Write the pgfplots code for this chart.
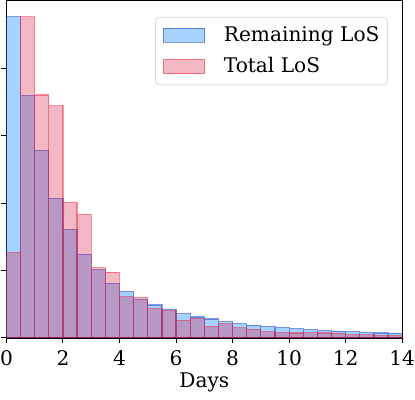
\documentclass[border=0pt]{standalone}
\usepackage{fontspec}
\setmainfont{DejaVu Serif}
\usepackage{pgfplots}
\pgfplotsset{compat=1.18}
\definecolor{blfill}{RGB}{30,144,255}
\definecolor{bledge}{RGB}{20,50,210}
\definecolor{rdfill}{RGB}{220,20,60}
\definecolor{rdedge}{RGB}{245,20,45}
\begin{document}
\begin{tikzpicture}
\begin{axis}[
    scale only axis,
    width=196.5pt,
    height=167.5pt,
    xmin=0, xmax=14,
    ymin=0, ymax=5,
    xtick={0,2,...,14},
    ytick={0,1,2,3,4},
    yticklabels={},
    y tick label style={overlay},
    x tick label style={inner xsep=0pt},
    tick align=outside,
    tick pos=left,
    major tick length=2.5pt,
    axis line style={line width=0.6pt},
    tick style={line width=0.5pt, black},
    /pgf/number format/assume math mode=true,
    tick label style={font=\fontsize{10}{12}\selectfont},
    xlabel={Days},
    xlabel style={font=\fontsize{10}{12}\selectfont, yshift=3pt},
    legend cell align=left,
    legend style={at={(0.964,0.952)}, anchor=north east, draw=gray!30,
        rounded corners=2pt, font=\fontsize{10}{12}\selectfont,
        row sep=2.5pt, inner xsep=2pt, inner ysep=2.5pt},
    legend image code/.code={
        \path[draw=none, fill=none] (-2pt,0) -- (28pt,0);
        \draw[#1, sharp corners] (0pt,-3.5pt) rectangle (20.5pt,3.5pt);},
]
\addplot[ybar interval, fill=blfill, fill opacity=0.4, draw=bledge, draw opacity=0.5, line width=0.6pt]
coordinates {(0,4.76) (0.5,3.59) (1,2.78) (1.5,2.07) (2,1.61) (2.5,1.24) (3,1.01) (3.5,0.81)
 (4,0.69) (4.5,0.57) (5,0.49) (5.5,0.42) (6,0.36) (6.5,0.31) (7,0.28) (7.5,0.24)
 (8,0.21) (8.5,0.19) (9,0.17) (9.5,0.155) (10,0.14) (10.5,0.125) (11,0.11) (11.5,0.10)
 (12,0.09) (12.5,0.08) (13,0.075) (13.5,0.07) (14,0.07)};
\addlegendentry{Remaining LoS}
\addplot[ybar interval, fill=rdfill, fill opacity=0.3, draw=rdedge, draw opacity=0.45, line width=0.6pt]
coordinates {(0,1.27) (0.5,4.76) (1,3.60) (1.5,3.44) (2,2.01) (2.5,1.83) (3,1.04) (3.5,0.975)
 (4,0.61) (4.5,0.60) (5,0.44) (5.5,0.41) (6,0.26) (6.5,0.29) (7,0.17) (7.5,0.21)
 (8,0.15) (8.5,0.13) (9,0.09) (9.5,0.08) (10,0.075) (10.5,0.08) (11,0.075) (11.5,0.07)
 (12,0.05) (12.5,0.05) (13,0.04) (13.5,0.035) (14,0.035)};
\addlegendentry{Total LoS}
\end{axis}
\end{tikzpicture}
\end{document}
